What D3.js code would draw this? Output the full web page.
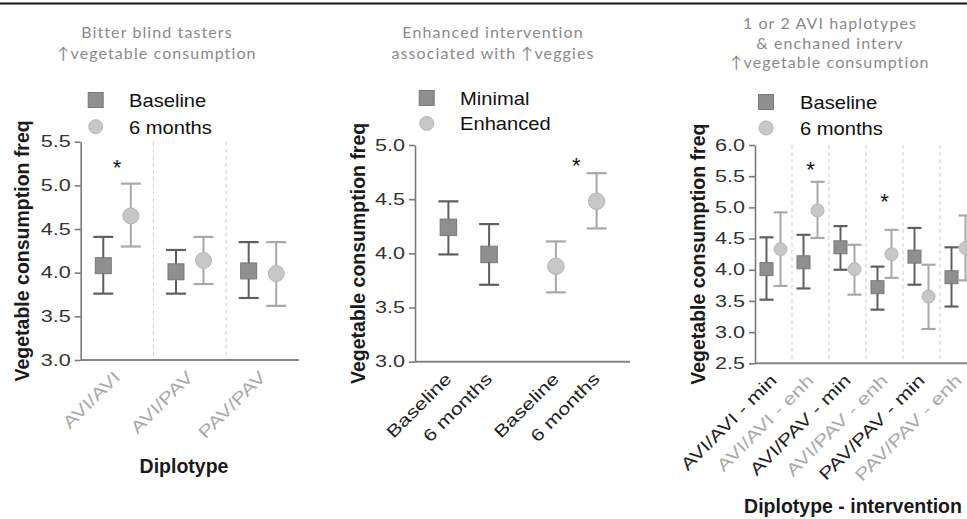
<!DOCTYPE html>
<html>
<head>
<meta charset="utf-8">
<script src="https://cdn.jsdelivr.net/npm/d3@7"></script>
<style>
  html, body { margin: 0; padding: 0; background: #fff; }
  svg { display: block; font-family: Arial, "Liberation Sans", sans-serif; }
  .ttl { font-family: Lato, "Open Sans", sans-serif; fill: #8a8a8a; font-size: 16px; letter-spacing: 1.1px; }
  .ytick text { font-size: 16px; fill: #333; }
  .ytick line, .ytick path { stroke: #7a7a7a; stroke-width: 1.6px; }
  .xlab { font-size: 17px; }
  .ytitle, .xtitle { font-weight: 700; font-size: 19.5px; fill: #1a1a1a; }
  .leg { font-size: 19px; fill: #111; }
  .star { font-size: 22px; fill: #111; }
</style>
</head>
<body>
<div id="chart"></div>
<script>
;(() => {
// ---- data (mean, lower, upper) ----
const p1Groups = ["AVI/AVI", "AVI/PAV", "PAV/PAV"];
const p1Times = ["Baseline", "6 months"];
const p1Baseline = [[4.08, 3.76, 4.41], [4.01, 3.76, 4.26], [4.02, 3.71, 4.35]];
const p1SixMonths = [[4.65, 4.30, 5.02], [4.14, 3.87, 4.41], [3.99, 3.62, 4.35]];
const p1Ticks = [3.0, 3.5, 4.0, 4.5, 5.0, 5.5];
const p1Stars = [["AVI/AVI", 5.26]];

const p2Groups = ["Minimal", "Enhanced"];
const p2Times = ["Baseline", "6 months"];
const p2Minimal = [[4.24, 3.99, 4.48], [3.99, 3.71, 4.27]];
const p2Enhanced = [[3.88, 3.64, 4.11], [4.48, 4.23, 4.74]];
const p2Ticks = [3.0, 3.5, 4.0, 4.5, 5.0];
const p2Stars = [["Enhanced", 4.85]];

const p3Groups = ["AVI/AVI - min", "AVI/AVI - enh", "AVI/PAV - min", "AVI/PAV - enh", "PAV/PAV - min", "PAV/PAV - enh"];
const p3Times = ["Baseline", "6 months"];
const p3Baseline = [[4.01, 3.52, 4.52], [4.12, 3.70, 4.56], [4.36, 4.00, 4.70], [3.72, 3.36, 4.05], [4.21, 3.76, 4.67], [3.88, 3.41, 4.36]];
const p3SixMonths = [[4.33, 3.74, 4.92], [4.95, 4.51, 5.41], [4.01, 3.60, 4.40], [4.25, 3.87, 4.64], [3.57, 3.05, 4.08], [4.35, 3.83, 4.87]];
const p3Ticks = [2.5, 3.0, 3.5, 4.0, 4.5, 5.0, 5.5, 6.0];
const p3Stars = [["AVI/AVI - enh", 5.68], ["AVI/PAV - enh", 5.17]];

const W = 967, H = 519;
const SQ = { fill: "#8f8f8f", stroke: "#787878", bar: "#5f5f5f" };   // baseline / minimal
const CI = { fill: "#c7c7c7", stroke: "#b5b5b5", bar: "#a8a8a8" };   // 6 months / enhanced
const fmt1 = d3.format(".1f");

// kéo giãn chữ theo chiều ngang cho giống bản gốc
function widen(sel, k) {
  sel.each(function () {
    const L = this.getComputedTextLength();
    d3.select(this).attr("textLength", L * k).attr("lengthAdjust", "spacingAndGlyphs");
  });
}

const svg = d3.select("#chart").append("svg").attr("width", W).attr("height", H);

// thin black rule at the very top (cropped page)
svg.append("line").attr("x1", 0).attr("x2", W).attr("y1", 3.5).attr("y2", 3.5)
  .attr("stroke", "#111").attr("stroke-width", 2);

function marker(g, shape, cx, cy, size, st) {
  if (shape === "square") {
    g.append("rect").attr("x", cx - size / 2).attr("y", cy - size / 2)
      .attr("width", size).attr("height", size)
      .attr("fill", st.fill).attr("stroke", st.stroke).attr("stroke-width", 1);
  } else {
    g.append("circle").attr("cx", cx).attr("cy", cy).attr("r", size / 2)
      .attr("fill", st.fill).attr("stroke", st.stroke).attr("stroke-width", 1);
  }
}

function errPoint(g, x, y, d, shape, size, cap, st) {
  const [m, lo, hi] = d;
  g.append("line").attr("x1", x).attr("x2", x).attr("y1", y(hi)).attr("y2", y(lo))
    .attr("stroke", st.bar).attr("stroke-width", 2);
  [hi, lo].forEach(v => g.append("line")
    .attr("x1", x - cap / 2).attr("x2", x + cap / 2).attr("y1", y(v)).attr("y2", y(v))
    .attr("stroke", st.bar).attr("stroke-width", 2.2));
  marker(g, shape, x, y(m), size, st);
}

function panel(cfg) {
  const g = svg.append("g");
  const y = d3.scaleLinear().domain(cfg.yDomain).range(cfg.yRange);
  const outer = d3.scaleBand().domain(cfg.groups).range(cfg.xRange).padding(0);
  const inner = d3.scalePoint().domain(cfg.times).range([0, outer.bandwidth()]).padding(0.82);
  const xOf = (grp, t) => outer(grp) + inner(t);

  // title
  cfg.title.forEach((line, i) => g.append("text").attr("class", "ttl")
    .attr("x", cfg.titleX).attr("y", cfg.titleY[i]).attr("text-anchor", "middle").text(line));

  // dashed group separators
  if (cfg.separators) {
    g.selectAll(".sep").data(cfg.groups.slice(1)).join("line")
      .attr("x1", d => outer(d)).attr("x2", d => outer(d))
      .attr("y1", cfg.yRange[1]).attr("y2", cfg.yRange[0])
      .attr("stroke", "#cfcfcf").attr("stroke-width", 1).attr("stroke-dasharray", "4,3");
  }

  // x axis line
  g.append("line").attr("x1", cfg.xRange[0]).attr("x2", cfg.xRange[1])
    .attr("y1", cfg.yRange[0]).attr("y2", cfg.yRange[0])
    .attr("stroke", "#858585").attr("stroke-width", 2);

  // y axis
  const ya = g.append("g").attr("class", "ytick")
    .attr("transform", `translate(${cfg.xRange[0]},0)`)
    .call(d3.axisLeft(y).tickValues(cfg.ticks).tickFormat(fmt1).tickSize(6).tickSizeOuter(0).tickPadding(4));
  widen(ya.selectAll("text"), 1.35);

  // points
  cfg.series.forEach(s => {
    s.data.forEach((d, i) => {
      const grp = s.groupOf(i), t = s.timeOf(i);
      errPoint(g, xOf(grp, t), y, d, s.shape, cfg.mSize, cfg.cap, s.style);
    });
  });

  // stars
  cfg.stars.forEach(([grp, v]) => g.append("text").attr("class", "star")
    .attr("x", outer(grp) + outer.bandwidth() / 2).attr("y", y(v) + 12)
    .attr("text-anchor", "middle").text("*"));

  // x tick labels (rotated)
  const labs = g.append("g");
  cfg.xLabels.forEach(l => {
    labs.append("text").attr("class", "xlab")
      .attr("transform", `translate(${l.x(outer, inner)},${cfg.yRange[0] + 14}) rotate(-45)`)
      .attr("text-anchor", "end").attr("dy", "0.35em")
      .attr("fill", l.color).text(l.text);
  });
  widen(labs.selectAll("text"), 1.28);

  // y title
  g.append("text").attr("class", "ytitle")
    .attr("transform", `translate(${cfg.yTitleX},${(cfg.yRange[0] + cfg.yRange[1]) / 2}) rotate(-90)`)
    .attr("text-anchor", "middle").text("Vegetable consumption freq");

  if (cfg.xTitle) {
    g.append("text").attr("class", "xtitle")
      .attr("x", cfg.xTitle.x).attr("y", cfg.xTitle.y).attr("text-anchor", "middle").text(cfg.xTitle.text);
  }

  // legend
  cfg.legend.items.forEach((it, i) => {
    const ly = cfg.legend.y + i * cfg.legend.dy;
    marker(g, it.shape, cfg.legend.x, ly, it.shape === "square" ? 15 : 14, it.style);
    const t = g.append("text").attr("class", "leg").attr("x", cfg.legend.tx).attr("y", ly)
      .attr("dy", "0.36em").text(it.text);
    widen(t, 1.06);
  });
}

const LIGHT = "#a9a9a9", DARK = "#222";

// Panel 1
panel({
  title: ["Bitter blind tasters", "\u2191vegetable consumption"], titleX: 157, titleY: [38, 59],
  groups: p1Groups, times: p1Times, xRange: [80.7, 298.8],
  yDomain: [3.0, 5.5], yRange: [360, 141.7], ticks: p1Ticks,
  separators: true, mSize: 16, cap: 20,
  series: [
    { data: p1Baseline, shape: "square", style: SQ, groupOf: i => p1Groups[i], timeOf: () => "Baseline" },
    { data: p1SixMonths, shape: "circle", style: CI, groupOf: i => p1Groups[i], timeOf: () => "6 months" }
  ],
  stars: p1Stars,
  xLabels: p1Groups.map(gr => ({ text: gr, color: LIGHT, x: (o) => o(gr) + o.bandwidth() / 2 })),
  yTitleX: 28.5,
  xTitle: { text: "Diplotype", x: 184, y: 473 },
  legend: { x: 95.7, y: 100, dy: 26.7, tx: 129, items: [
    { shape: "square", style: SQ, text: "Baseline" },
    { shape: "circle", style: CI, text: "6 months" }] }
});

// Panel 2
panel({
  title: ["Enhanced intervention", "associated with \u2191veggies"], titleX: 493, titleY: [38, 59],
  groups: p2Groups, times: p2Times, xRange: [415, 630],
  yDomain: [3.0, 5.0], yRange: [361.7, 145], ticks: p2Ticks,
  separators: false, mSize: 16.5, cap: 20,
  series: [
    { data: p2Minimal, shape: "square", style: SQ, groupOf: () => "Minimal", timeOf: i => p2Times[i] },
    { data: p2Enhanced, shape: "circle", style: CI, groupOf: () => "Enhanced", timeOf: i => p2Times[i] }
  ],
  stars: p2Stars,
  xLabels: p2Groups.flatMap(gr => p2Times.map(t => ({ text: t, color: DARK, x: (o, inn) => o(gr) + inn(t) }))),
  yTitleX: 365,
  xTitle: null,
  legend: { x: 426.7, y: 98, dy: 25.5, tx: 460, items: [
    { shape: "square", style: SQ, text: "Minimal" },
    { shape: "circle", style: CI, text: "Enhanced" }] }
});

// Panel 3
panel({
  title: ["1 or 2 AVI haplotypes", "& enchaned interv", "\u2191vegetable consumption"], titleX: 830, titleY: [29, 49, 68],
  groups: p3Groups, times: p3Times, xRange: [755, 977],
  yDomain: [2.5, 6.0], yRange: [363.3, 145], ticks: p3Ticks,
  separators: true, mSize: 13, cap: 14,
  series: [
    { data: p3Baseline, shape: "square", style: SQ, groupOf: i => p3Groups[i], timeOf: () => "Baseline" },
    { data: p3SixMonths, shape: "circle", style: CI, groupOf: i => p3Groups[i], timeOf: () => "6 months" }
  ],
  stars: p3Stars,
  xLabels: p3Groups.map(gr => ({ text: gr, color: gr.endsWith("min") ? DARK : LIGHT, x: (o) => o(gr) + o.bandwidth() / 2 })),
  yTitleX: 705,
  xTitle: { text: "Diplotype - intervention", x: 853, y: 513 },
  legend: { x: 766, y: 102, dy: 26, tx: 800, items: [
    { shape: "square", style: SQ, text: "Baseline" },
    { shape: "circle", style: CI, text: "6 months" }] }
});
})();
</script>
</body>
</html>
